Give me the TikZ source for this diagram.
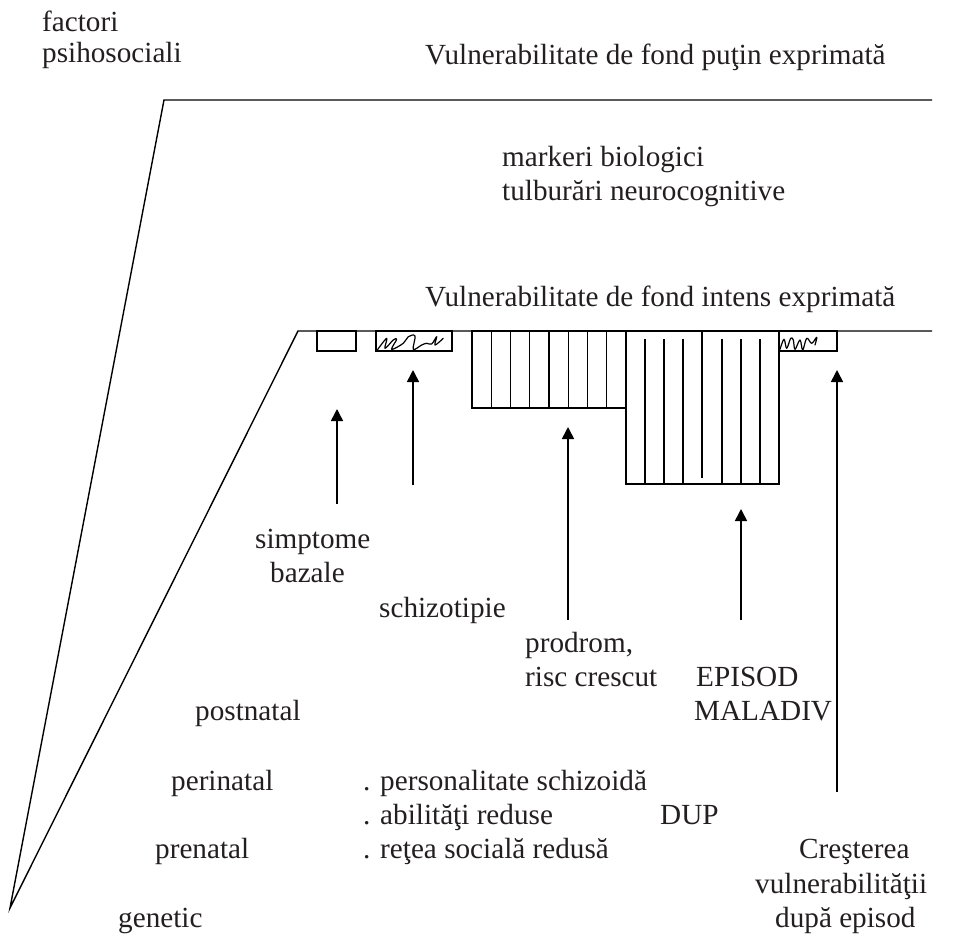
\documentclass[tikz,border=0pt]{standalone}
\usepackage{fontspec}
\setmainfont{Liberation Serif}
\usetikzlibrary{arrows.meta}
\definecolor{inkgray}{HTML}{231F20}
\begin{document}
\begin{tikzpicture}[x=1pt,y=-1pt,
  lbl/.style={anchor=base west, inner sep=0pt, text=inkgray, font=\fontsize{29.2}{34}\selectfont},
  hdr/.style={anchor=base west, inner sep=0pt, text=inkgray, font=\fontsize{29.2}{34}\selectfont},
  frame/.style={line width=1.4pt, line join=miter},
  bar/.style={line width=1.3pt},
  pointer/.style={line width=1.6pt, -{Triangle[length=12pt,width=12pt]}},
  scribble/.style={line width=1.2pt, line join=round, line cap=round}]
\useasboundingbox (0,0) rectangle (953,936);

% ---- the two vulnerability levels, meeting at the origin point
\coordinate (origin) at (10,908);
\coordinate (highcorner) at (164,100);
\coordinate (highend) at (932,100);
\coordinate (lowcorner) at (298,331);
\coordinate (lowend) at (932,331);
\draw[frame] (highend) -- (highcorner) -- (origin) -- (lowcorner) -- (lowend);

% ---- small blocks hanging from the lower level
\draw[bar] (317,331) rectangle (356,351);
\draw[bar] (376,331) rectangle (452,351);
\draw[scribble] plot[smooth, tension=0.6] coordinates {
  (377.3,350) (386.7,338.3) (385,348.3) (393.3,340) (396.7,339.3) (391.7,349.3)
  (403.3,343.3) (408.3,336.7) (415,336) (413.3,349.3) (421.7,345) (426.7,343.3)
  (431.7,344) (436.7,336.7) (435,345) (443.3,338.3)};

% prodrome block
\draw[bar] (472,331) rectangle (626,408);
\foreach \k in {1,...,7}
  \draw[bar] ({472+\k*19.25},331) -- ({472+\k*19.25},408);

% episode block
\draw[bar] (626,331) rectangle (779,484);
\foreach \xx in {645,664,683,722,741,760}
  \draw[bar] (\xx,339) -- (\xx,484);
\draw[bar] (702,331) -- (702,478);

% post-episode block
\draw[bar] (779,331) rectangle (837,351);
\draw[scribble] plot[smooth, tension=0.6] coordinates {
  (780,349.3) (784,339.3) (786.7,348.3) (790.7,338.3) (793.3,340) (795,349.3)
  (800,340) (802.7,350) (806.7,338.3) (811.7,343.3) (816.7,337.3) (815,345)};

% ---- pointers
\coordinate (p1s) at (337,504); \coordinate (p1e) at (337,409);
\coordinate (p2s) at (413,485); \coordinate (p2e) at (413,370);
\coordinate (p3s) at (568,620); \coordinate (p3e) at (568,427);
\coordinate (p4s) at (741,620); \coordinate (p4e) at (741,509);
\coordinate (p5s) at (837,792); \coordinate (p5e) at (837,370);
\draw[pointer] (p1s) -- (p1e);
\draw[pointer] (p2s) -- (p2e);
\draw[pointer] (p3s) -- (p3e);
\draw[pointer] (p4s) -- (p4e);
\draw[pointer] (p5s) -- (p5e);

% ---- labels
\node[lbl] (factori) at (42,32) {factori};
\node[lbl] (psiho) at (42,63) {psihosociali};
\node[hdr] (putin) at (425,65) {Vulnerabilitate de fond puţin exprimată};
\node[hdr] (markeri) at (502,167) {markeri biologici};
\node[hdr] (tulb) at (502,201) {tulburări neurocognitive};
\node[hdr] (intens) at (425,306) {Vulnerabilitate de fond intens exprimată};

\node[lbl] (simpt) at (255,548) {simptome};
\node[lbl] (bazale) at (270,582) {bazale};
\node[lbl] (schizo) at (379,617) {schizotipie};
\node[lbl] (prodrom) at (525,652) {prodrom,};
\node[lbl] (risc) at (525,686) {risc crescut};
\node[lbl] (episod) at (696,686) {EPISOD};
\node[lbl] (maladiv) at (694,720) {MALADIV};

\node[lbl] (postn) at (195,720) {postnatal};
\node[lbl] (perin) at (171,790) {perinatal};
\node[lbl] (pren) at (155,858) {prenatal};
\node[lbl] (genetic) at (118,927) {genetic};

\node[lbl] (pers) at (363,790) {. personalitate schizoidă};
\node[lbl] (abil) at (363,824) {. abilităţi reduse};
\node[lbl] (retea) at (363,858) {. reţea socială redusă};
\node[lbl] (dup) at (660,824) {DUP};

\node[lbl] (crest) at (799,858) {Creşterea};
\node[lbl] (vuln) at (755,893) {vulnerabilităţii};
\node[lbl] (dupa) at (775,927) {după episod};
\end{tikzpicture}
\end{document}
